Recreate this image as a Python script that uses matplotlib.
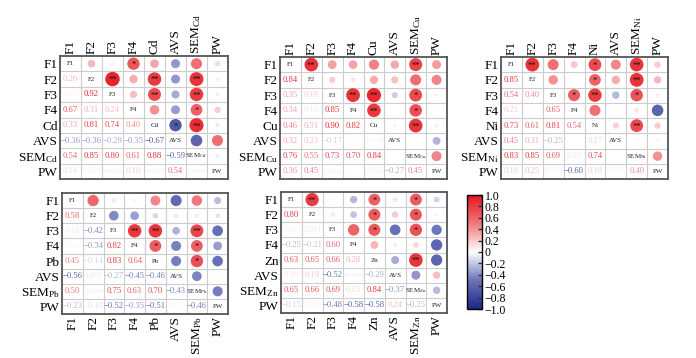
import numpy as np
import matplotlib
matplotlib.use("Agg")
import matplotlib.pyplot as plt
from matplotlib.colors import LinearSegmentedColormap, Normalize
import matplotlib.colorbar as mcolorbar

plt.rcParams['font.family'] = ['Liberation Serif', 'DejaVu Serif']
plt.rcParams['mathtext.fontset'] = 'custom'
plt.rcParams['mathtext.rm'] = 'Liberation Serif'
plt.rcParams['mathtext.it'] = 'Liberation Serif:italic'
plt.rcParams['mathtext.bf'] = 'Liberation Serif:bold'

nan = np.nan

# ---------------- data (lower triangles, row by row) ----------------
cd_lower = [
    [0.26],
    [0.055, 0.92],
    [0.67, 0.31, 0.24],
    [0.33, 0.81, 0.74, 0.40],
    [-0.36, -0.36, -0.29, -0.35, -0.67],
    [0.54, 0.85, 0.80, 0.61, 0.88, -0.59],
    [0.14, 0.068, -0.055, 0.18, -0.077, 0.54, -0.068],
]
cd_stars = [(0, 3, "*"), (1, 2, "**"), (1, 4, "**"), (1, 6, "**"), (2, 4, "**"),
            (2, 6, "**"), (3, 6, "*"), (4, 5, "*"), (4, 6, "**")]

cu_lower = [
    [0.84],
    [0.35, 0.18],
    [0.34, 0.10, 0.85],
    [0.46, 0.31, 0.90, 0.82],
    [0.32, 0.23, -0.17, -0.009, -0.045],
    [0.76, 0.55, 0.73, 0.70, 0.84, nan],
    [0.36, 0.45, -0.055, nan, 0.064, -0.27, 0.45],
]
cu_stars = [(0, 1, "**"), (0, 6, "**"), (2, 3, "**"), (2, 4, "**"), (2, 6, "*"),
            (3, 4, "**"), (3, 6, "*"), (4, 6, "**")]

ni_lower = [
    [0.85],
    [0.54, 0.40],
    [0.21, 0.009, 0.65],
    [0.73, 0.61, 0.81, 0.54],
    [0.45, 0.31, -0.25, nan, 0.17],
    [0.83, 0.85, 0.69, 0.10, 0.74, nan],
    [0.19, 0.25, 0.073, -0.60, 0.18, 0.045, 0.40],
]
ni_stars = [(0, 1, "**"), (0, 4, "*"), (0, 6, "**"), (1, 4, "*"), (1, 6, "**"),
            (2, 3, "*"), (2, 4, "**"), (2, 6, "*"), (4, 6, "**")]

pb_lower = [
    [0.58],
    [0.10, -0.42],
    [0.043, -0.34, 0.82],
    [0.45, -0.14, 0.83, 0.64],
    [-0.56, 0.091, -0.27, -0.45, -0.46],
    [0.50, -0.064, 0.75, 0.63, 0.70, -0.43],
    [-0.23, -0.10, -0.52, -0.35, -0.51, 0.025, -0.46],
]
pb_stars = [(2, 3, "**"), (2, 4, "**"), (2, 6, "**"), (3, 4, "*"), (3, 6, "*"), (4, 6, "*")]

zn_lower = [
    [0.80],
    [0.043, 0.091],
    [-0.25, -0.21, 0.60],
    [0.63, 0.65, 0.66, 0.28],
    [0.10, 0.19, -0.52, -0.064, -0.29],
    [0.65, 0.66, 0.69, 0.15, 0.84, -0.37],
    [-0.15, 0.045, -0.48, -0.58, -0.58, 0.24, -0.25],
]
zn_stars = [(0, 1, "**"), (0, 4, "*"), (0, 6, "*"), (1, 4, "*"), (1, 6, "*"),
            (2, 4, "*"), (2, 6, "*"), (4, 6, "**")]

cbar_ticks = [1.0, 0.8, 0.6, 0.4, 0.2, 0.0, -0.2, -0.4, -0.6, -0.8, -1.0]

# ---------------- style ----------------
cmap = LinearSegmentedColormap.from_list(
    "bwr_corr",
    [(0.0, "#1B2784"), (0.25, "#6A72B9"), (0.5, "#FFFFFF"),
     (0.75, "#F0787C"), (1.0, "#E5161D")])
norm = Normalize(-1, 1)

W, H = 696, 358
fig = plt.figure(figsize=(W / 100, H / 100), dpi=100)


def frac(x0, y0, x1, y1):
    return [x0 / W, 1 - y1 / H, (x1 - x0) / W, (y1 - y0) / H]


def fmt(v):
    s = f"{abs(v):.3f}" if abs(v) < 0.1 else f"{abs(v):.2f}"
    return ("\u2212" if v < 0 else "") + s


def draw(rect, metal, lower, stars, top):
    ax = fig.add_axes(rect)
    n = 8
    labels = ["F1", "F2", "F3", "F4", metal, "AVS",
              r"SEM$_{\mathrm{%s}}$" % metal, "PW"]
    M = np.full((n, n), nan)
    for i, row in enumerate(lower, start=1):
        for j, v in enumerate(row):
            M[i, j] = v
            M[j, i] = v
    ax.set_xlim(-0.5, n - 0.5)
    ax.set_ylim(n - 0.5, -0.5)
    for k in range(1, n):
        ax.axhline(k - 0.5, color="#cccccc", lw=0.8, zorder=0)
        ax.axvline(k - 0.5, color="#cccccc", lw=0.8, zorder=0)
    cell_h = ax.bbox.height / n
    xs, ys, ss, cs = [], [], [], []
    for i in range(n):
        for j in range(n):
            v = M[i, j]
            if i == j:
                ax.text(j, i, labels[i], ha="center", va="center", fontsize=5,
                        color="#222222")
            elif np.isnan(v):
                continue
            elif i < j:
                d = cell_h * 0.98 * np.sqrt(abs(v)) * 72 / 100
                xs.append(j); ys.append(i); ss.append(d * d); cs.append(cmap(norm(v)))
            else:
                txt = fmt(v)
                fs = 6.2 if len(txt) <= 5 else 5.4
                ax.text(j, i, txt, ha="center", va="center", fontsize=fs,
                        color=cmap(norm(v)))
    ax.scatter(xs, ys, s=ss, c=cs, linewidths=0, zorder=2)
    for (i, j, mk) in stars:
        ax.text(j, i + 0.08, mk, ha="center", va="center", fontsize=6,
                color="#111111", zorder=3)
    ax.set_xticks(range(n))
    ax.set_yticks(range(n))
    ax.set_yticklabels(labels, fontsize=9.5)
    if top:
        ax.xaxis.tick_top()
        ax.set_xticklabels(labels, fontsize=9.5, rotation=90, va="bottom")
    else:
        ax.set_xticklabels(labels, fontsize=9.5, rotation=90, va="top")
    ax.tick_params(length=0, pad=1.5)
    for sp in ax.spines.values():
        sp.set_color("#555555")
        sp.set_linewidth(1.3)
    return ax


draw(frac(60, 56, 228, 179), "Cd", cd_lower, cd_stars, True)
draw(frac(280, 57, 447, 179), "Cu", cu_lower, cu_stars, True)
draw(frac(501, 57, 668, 179), "Ni", ni_lower, ni_stars, True)
draw(frac(62, 193, 228, 314), "Pb", pb_lower, pb_stars, False)
draw(frac(281, 192, 447, 313), "Zn", zn_lower, zn_stars, False)

cax = fig.add_axes(frac(467, 195, 482, 309))
cb = mcolorbar.ColorbarBase(cax, cmap=cmap, norm=norm, orientation="vertical")
cb.set_ticks(cbar_ticks)
cb.set_ticklabels(["0" if t == 0 else ("\u2212" if t < 0 else "") + f"{abs(t):.1f}"
                   for t in cbar_ticks])
cax.tick_params(direction="in", length=3, width=1, labelsize=8.5, pad=2,
                color="#333333")
cb.outline.set_linewidth(1)

fig.savefig("out.png", dpi=100)
